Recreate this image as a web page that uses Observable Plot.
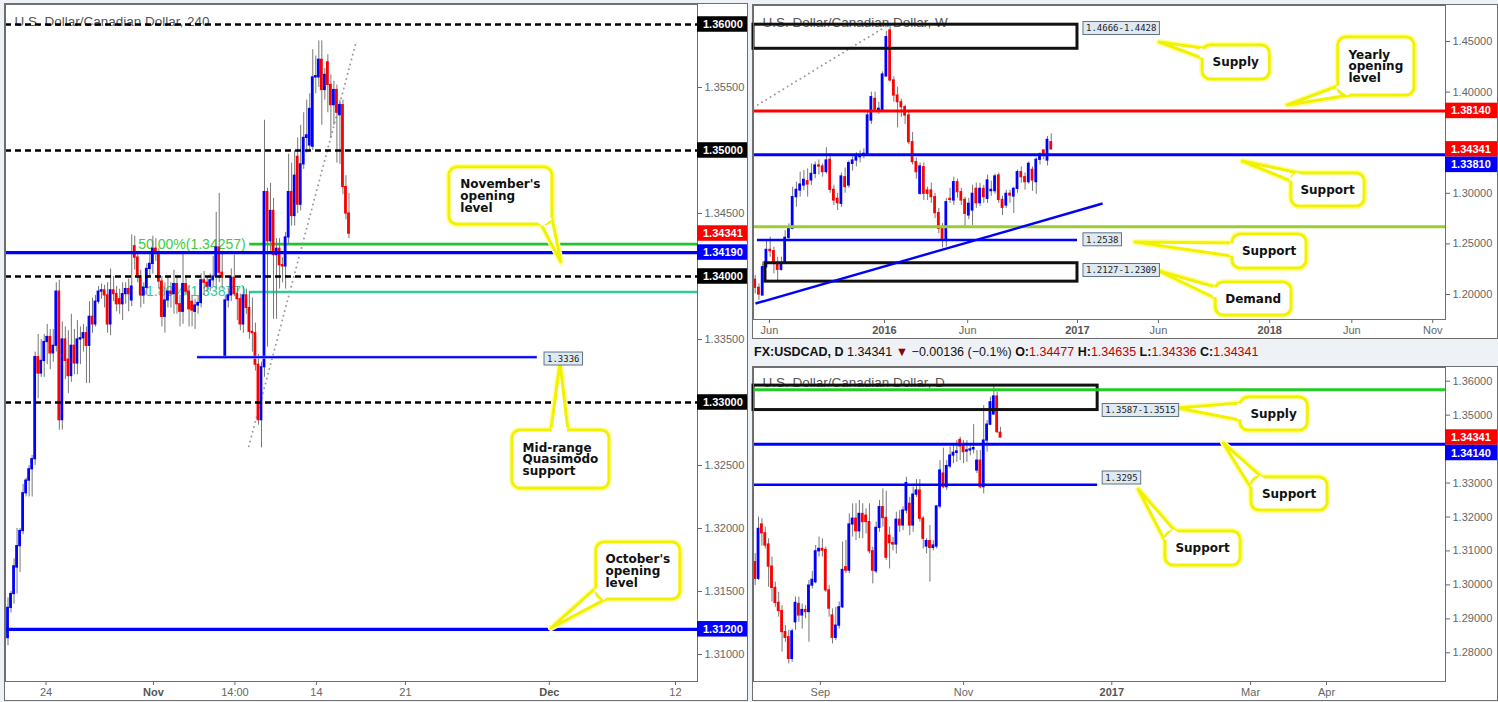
<!DOCTYPE html>
<html><head><meta charset="utf-8">
<script src="https://cdn.jsdelivr.net/npm/d3@7"></script>
<script src="https://cdn.jsdelivr.net/npm/@observablehq/plot@0.6"></script>
<style>
html,body{margin:0;padding:0;}
body{width:1498px;height:702px;background:#eef1f5;position:relative;overflow:hidden;font-family:"Liberation Sans",Arial,sans-serif;}
.panel{position:absolute;border:1px solid #6f6f6f;background:#fff;line-height:0;}
.panel svg{display:block;}
#hdr{position:absolute;left:754px;top:344px;font-size:12.5px;line-height:16px;color:#111;white-space:nowrap;}
#hdr b{font-weight:bold;color:#111;}
#hdr .r{color:#c00000;}
</style></head><body>
<div id="p1" class="panel" style="left:4px;top:3px;"></div>
<div id="p2" class="panel" style="left:752px;top:4px;"></div>
<div id="hdr"><b>FX:USDCAD, D</b> 1.34341 <span style="color:#8b0000">▼</span> −0.00136 (−0.1%) <b>O:</b><span class="r">1.34477</span> <b>H:</b><span class="r">1.34635</span> <b>L:</b><span class="r">1.34336</span> <b>C:</b><span class="r">1.34341</span></div>
<div id="p3" class="panel" style="left:752px;top:366px;"></div>
<script>
// ================= 4H (240) panel data =================
const h4Open = [1.3113,1.3137,1.3148,1.3169,1.3186,1.3198,1.3228,1.3238,1.3247,1.3255,
1.3336,1.3323,1.3333,1.3348,1.3352,1.3339,1.3345,1.3388,1.3286,1.3350,
1.3334,1.3321,1.3345,1.3331,1.3350,1.3351,1.3355,1.3345,1.3368,1.3362,
1.3380,1.3388,1.3389,1.3385,1.3362,1.3389,1.3386,1.3382,1.3378,1.3386,
1.3390,1.3381,1.3424,1.3415,1.3400,1.3385,1.3391,1.3406,1.3410,1.3422,
1.3418,1.3396,1.3368,1.3381,1.3388,1.3386,1.3394,1.3378,1.3372,1.3394,
1.3388,1.3380,1.3372,1.3377,1.3379,1.3397,1.3395,1.3392,1.3397,1.3400,
1.3423,1.3403,1.3336,1.3381,1.3385,1.3399,1.3386,1.3382,1.3362,1.3385,
1.3375,1.3356,1.3355,1.3330,1.3286,1.3328,1.3467,1.3428,1.3452,1.3417,
1.3422,1.3409,1.3408,1.3431,1.3467,1.3448,1.3495,1.3457,1.3489,1.3510,
1.3504,1.3503,1.3558,1.3558,1.3572,1.3548,1.3570,1.3552,1.3536,1.3548,
1.3528,1.3536,1.3471,1.3450];
const h4High = [1.3145,1.3150,1.3176,1.3200,1.3200,1.3235,1.3240,1.3250,1.3258,1.3340,
1.3354,1.3350,1.3354,1.3362,1.3358,1.3358,1.3395,1.3397,1.3364,1.3360,
1.3357,1.3370,1.3358,1.3365,1.3360,1.3362,1.3360,1.3380,1.3383,1.3385,
1.3392,1.3394,1.3393,1.3395,1.3406,1.3400,1.3392,1.3390,1.3395,1.3395,
1.3398,1.3433,1.3432,1.3420,1.3405,1.3395,1.3410,1.3420,1.3432,1.3430,
1.3422,1.3400,1.3395,1.3400,1.3395,1.3405,1.3400,1.3385,1.3420,1.3400,
1.3392,1.3385,1.3382,1.3385,1.3402,1.3404,1.3400,1.3402,1.3416,1.3451,
1.3466,1.3420,1.3385,1.3391,1.3406,1.3417,1.3392,1.3386,1.3392,1.3390,
1.3388,1.3383,1.3363,1.3338,1.3332,1.3524,1.3470,1.3474,1.3462,1.3430,
1.3430,1.3415,1.3435,1.3497,1.3490,1.3500,1.3510,1.3520,1.3530,1.3540,
1.3545,1.3580,1.3575,1.3587,1.3587,1.3565,1.3576,1.3560,1.3555,1.3552,
1.3540,1.3540,1.3480,1.3466];
const h4Low = [1.3107,1.3133,1.3140,1.3148,1.3165,1.3195,1.3225,1.3225,1.3225,1.3250,
1.3303,1.3320,1.3320,1.3330,1.3326,1.3332,1.3340,1.3278,1.3278,1.3318,
1.3307,1.3316,1.3322,1.3322,1.3330,1.3340,1.3315,1.3315,1.3355,1.3360,
1.3378,1.3382,1.3375,1.3355,1.3353,1.3380,1.3372,1.3370,1.3365,1.3378,
1.3372,1.3376,1.3405,1.3395,1.3375,1.3378,1.3385,1.3400,1.3402,1.3412,
1.3390,1.3360,1.3355,1.3375,1.3375,1.3370,1.3370,1.3360,1.3362,1.3385,
1.3360,1.3360,1.3358,1.3370,1.3375,1.3385,1.3388,1.3388,1.3392,1.3390,
1.3395,1.3390,1.3334,1.3375,1.3380,1.3384,1.3365,1.3357,1.3355,1.3370,
1.3350,1.3340,1.3325,1.3282,1.3264,1.3320,1.3344,1.3420,1.3366,1.3366,
1.3390,1.3395,1.3390,1.3425,1.3440,1.3440,1.3450,1.3452,1.3485,1.3498,
1.3500,1.3500,1.3545,1.3550,1.3520,1.3540,1.3530,1.3510,1.3520,1.3490,
1.3489,1.3465,1.3445,1.3430];
const h4Close = [1.3137,1.3148,1.3170,1.3186,1.3198,1.3228,1.3238,1.3247,1.3255,1.3336,
1.3323,1.3333,1.3348,1.3352,1.3339,1.3345,1.3388,1.3286,1.3350,1.3333,
1.3321,1.3345,1.3331,1.3350,1.3351,1.3355,1.3345,1.3368,1.3362,1.3380,
1.3388,1.3389,1.3385,1.3362,1.3389,1.3386,1.3378,1.3378,1.3386,1.3390,
1.3386,1.3392,1.3415,1.3400,1.3385,1.3391,1.3406,1.3410,1.3422,1.3418,
1.3396,1.3368,1.3381,1.3388,1.3386,1.3394,1.3378,1.3372,1.3394,1.3388,
1.3374,1.3373,1.3377,1.3379,1.3397,1.3395,1.3392,1.3397,1.3400,1.3423,
1.3403,1.3399,1.3381,1.3385,1.3399,1.3386,1.3382,1.3362,1.3385,1.3375,
1.3356,1.3355,1.3330,1.3286,1.3328,1.3467,1.3428,1.3452,1.3417,1.3422,
1.3409,1.3408,1.3431,1.3467,1.3448,1.3480,1.3457,1.3489,1.3510,1.3512,
1.3533,1.3558,1.3559,1.3572,1.3548,1.3560,1.3552,1.3536,1.3548,1.3530,
1.3536,1.3471,1.3450,1.3434];
const h4TickPos = [12.6, 48.2, 75.2, 102.2, 131.7, 179.4, 221.2];
const h4TickLabels = ["24","Nov","14:00","14","21","Dec","12"];
const h4PriceTicks = [1.31,1.315,1.32,1.325,1.335,1.345,1.355];
const h4RoundLevels = [1.36,1.35,1.34,1.33];
const h4NovOpen = 1.3419, h4OctOpen = 1.3120, h4QM = 1.3336;
const h4Fib50 = 1.34257, h4Fib618 = 1.33877, lastPrice = 1.34341;

// ================= Weekly panel data =================
const wOpen = [1.2145,1.2066,1.1990,1.2270,1.2441,1.2428,1.2303,1.2244,1.2310,1.2560,
1.2649,1.2962,1.3028,1.3077,1.3120,1.3127,1.3192,1.3275,1.3265,1.3210,
1.3331,1.3034,1.2945,1.2896,1.3159,1.3077,1.3291,1.3324,1.3357,1.3374,
1.3390,1.3719,1.3933,1.3818,1.3818,1.4154,1.4609,1.4115,1.3966,1.3900,
1.3851,1.3769,1.3505,1.3308,1.2995,1.3258,1.3028,1.3028,1.2962,1.2804,
1.2649,1.2540,1.2945,1.2929,1.3110,1.3011,1.2935,1.2781,1.2830,1.3044,
1.2902,1.3044,1.2945,1.3021,1.3021,1.3176,1.2935,1.2879,1.2995,1.2968,
1.3044,1.3209,1.3159,1.3110,1.3232,1.3110,1.3331,1.3423,1.3324,1.3505];
const wHigh = [1.2188,1.2105,1.2320,1.2534,1.2567,1.2468,1.2369,1.2369,1.2632,1.2698,
1.3061,1.3110,1.3209,1.3225,1.3242,1.3291,1.3308,1.3330,1.3290,1.3450,
1.3390,1.3080,1.3000,1.3200,1.3250,1.3320,1.3360,1.3400,1.3420,1.3440,
1.3800,1.4000,1.4000,1.3900,1.4200,1.4600,1.4680,1.4150,1.4050,1.3930,
1.3870,1.3800,1.3600,1.3350,1.3300,1.3300,1.3060,1.3100,1.3000,1.2850,
1.2700,1.2950,1.3050,1.3160,1.3140,1.3050,1.2960,1.2950,1.3080,1.3100,
1.3100,1.3080,1.3180,1.3120,1.3190,1.3200,1.2970,1.3030,1.3030,1.3060,
1.3230,1.3260,1.3200,1.3310,1.3260,1.3350,1.3400,1.3430,1.3560,1.3588];
const wLow = [1.2007,1.1941,1.1985,1.2260,1.2369,1.2204,1.2138,1.2230,1.2300,1.2540,
1.2640,1.2863,1.2962,1.3028,1.2962,1.3077,1.3143,1.3180,1.3160,1.3190,
1.3000,1.2880,1.2830,1.2860,1.3000,1.3050,1.3220,1.3260,1.3300,1.3340,
1.3380,1.3680,1.3800,1.3780,1.3810,1.4150,1.4100,1.3900,1.3647,1.3750,
1.3680,1.3480,1.3280,1.3140,1.2980,1.2929,1.2930,1.2900,1.2750,1.2600,
1.2460,1.2470,1.2900,1.2880,1.2950,1.2880,1.2665,1.2740,1.2682,1.2850,
1.2870,1.2900,1.2900,1.2970,1.2990,1.2900,1.2780,1.2850,1.2900,1.2800,
1.3000,1.3100,1.3030,1.3090,1.3020,1.2990,1.3280,1.3330,1.3270,1.3430];
const wClose = [1.2066,1.2000,1.2270,1.2441,1.2428,1.2303,1.2244,1.2310,1.2560,1.2649,
1.2962,1.3034,1.3087,1.3133,1.3087,1.3192,1.3275,1.3265,1.3210,1.3324,
1.3034,1.2929,1.2902,1.3166,1.3061,1.3298,1.3324,1.3357,1.3374,1.3390,
1.3769,1.3950,1.3825,1.3835,1.4174,1.4543,1.4115,1.3966,1.3900,1.3851,
1.3769,1.3505,1.3308,1.3209,1.3265,1.2995,1.2995,1.2962,1.2804,1.2649,
1.2540,1.2912,1.2935,1.3110,1.3011,1.2929,1.2797,1.2896,1.2995,1.2902,
1.3044,1.2962,1.3127,1.3034,1.3166,1.2935,1.2856,1.2995,1.2978,1.3044,
1.3209,1.3159,1.3110,1.3291,1.3127,1.3331,1.3383,1.3390,1.3528,1.3434];
const wTickPos = [3.8, 34.5, 56.7, 86.0, 107.6, 137.3, 159.2, 180.8];
const wTickLabels = ["Jun","2016","Jun","2017","Jun","2018","Jun","Nov"];
const wPriceTicks = [1.20,1.25,1.30,1.40,1.45];
const wYearlyOpen = 1.3814, wSupport = 1.3381, wGreenLevel = 1.2670, wSupport2 = 1.2538;
const wSupplyZone = [1.4428, 1.4666], wDemandZone = [1.2127, 1.2309];

// ================= Daily panel data =================
const dOpen = [1.3067,1.3018,1.3178,1.3152,1.3119,1.3054,1.2991,1.2947,1.2923,1.2861,
1.2846,1.2782,1.2890,1.2944,1.2910,1.2926,1.2920,1.2998,1.3008,1.3099,
1.3106,1.3103,1.2984,1.2910,1.2844,1.2880,1.2934,1.3052,1.3042,1.3178,
1.3195,1.3158,1.3209,1.3204,1.3185,1.3099,1.3040,1.3168,1.3229,1.3197,
1.3145,1.3123,1.3119,1.3192,1.3175,1.3219,1.3239,1.3175,1.3266,1.3278,
1.3195,1.3113,1.3129,1.3109,1.3113,1.3231,1.3328,1.3288,1.3349,1.3381,
1.3389,1.3427,1.3408,1.3393,1.3396,1.3399,1.3337,1.3366,1.3288,1.3425,
1.3472,1.3502,1.3555,1.3448];
const dHigh = [1.3092,1.3200,1.3195,1.3170,1.3136,1.3082,1.3008,1.2978,1.2939,1.2880,
1.2866,1.2870,1.2964,1.2964,1.2944,1.2939,1.3013,1.3040,1.3116,1.3141,
1.3136,1.3111,1.2998,1.2929,1.2934,1.2950,1.3126,1.3131,1.3209,1.3239,
1.3239,1.3249,1.3239,1.3224,1.3239,1.3111,1.3185,1.3249,1.3283,1.3276,
1.3170,1.3140,1.3214,1.3219,1.3230,1.3317,1.3258,1.3288,1.3310,1.3310,
1.3201,1.3136,1.3175,1.3130,1.3234,1.3366,1.3403,1.3366,1.3406,1.3411,
1.3425,1.3435,1.3425,1.3425,1.3410,1.3472,1.3396,1.3396,1.3528,1.3484,
1.3553,1.3587,1.3568,1.3464];
const dLow = [1.2998,1.3013,1.3114,1.3106,1.2993,1.2949,1.2934,1.2905,1.2802,1.2831,
1.2767,1.2772,1.2866,1.2890,1.2870,1.2900,1.2831,1.2988,1.3003,1.3082,
1.3082,1.2978,1.2905,1.2826,1.2836,1.2870,1.2930,1.3033,1.3033,1.3141,
1.3131,1.3136,1.3136,1.3150,1.3091,1.3003,1.3033,1.3155,1.3170,1.3072,
1.3047,1.3100,1.3091,1.3155,1.3160,1.3209,1.3145,1.3155,1.3258,1.3185,
1.3106,1.3091,1.3008,1.3100,1.3106,1.3224,1.3283,1.3278,1.3342,1.3357,
1.3361,1.3366,1.3357,1.3361,1.3380,1.3386,1.3328,1.3283,1.3268,1.3391,
1.3470,1.3500,1.3445,1.3434];
const dClose = [1.3018,1.3165,1.3152,1.3116,1.3054,1.2991,1.2947,1.2923,1.2861,1.2844,
1.2782,1.2863,1.2947,1.2910,1.2926,1.2920,1.2998,1.3015,1.3099,1.3106,
1.3101,1.2984,1.2930,1.2844,1.2880,1.2934,1.3044,1.3042,1.3178,1.3195,
1.3158,1.3209,1.3185,1.3185,1.3099,1.3042,1.3168,1.3229,1.3197,1.3080,
1.3123,1.3119,1.3192,1.3175,1.3219,1.3300,1.3175,1.3266,1.3278,1.3195,
1.3136,1.3129,1.3109,1.3116,1.3231,1.3337,1.3288,1.3350,1.3381,1.3389,
1.3393,1.3408,1.3391,1.3396,1.3399,1.3403,1.3366,1.3288,1.3425,1.3472,
1.3538,1.3555,1.3450,1.3434];
const dTickPos = [19.4, 62.0, 106.1, 147.4, 170.0];
const dTickLabels = ["Sep","Nov","2017","Mar","Apr"];
const dPriceTicks = [1.28,1.29,1.30,1.31,1.32,1.33,1.35,1.36];
const dSupport = 1.3414, dSupport2 = 1.3295, dGreenLevel = 1.3575;
const dSupplyZone = [1.3515, 1.3587];

// ================= helpers =================
const BLUE = "#0000ff", RED = "#ff0000";
const fmt5 = d3.format(".5f");
function rows(o, h, l, c) { return o.map((v, i) => ({i, o: v, h: h[i], l: l[i], c: c[i]})); }
function candleMarks(data, hw) {
  const up = data.filter(d => d.c >= d.o), dn = data.filter(d => d.c < d.o);
  return [
    Plot.ruleX(data, {x: "i", y1: "l", y2: "h", stroke: "#777", strokeWidth: 1}),
    Plot.rect(up, {x1: d => d.i - hw, x2: d => d.i + hw, y1: "o", y2: "c", fill: BLUE, insetTop: -0.6, insetBottom: -0.6}),
    Plot.rect(dn, {x1: d => d.i - hw, x2: d => d.i + hw, y1: "o", y2: "c", fill: RED, insetTop: -0.6, insetBottom: -0.6})
  ];
}
function titleMark(t, dy) {
  return Plot.text([t], {frameAnchor: "top-left", dx: 9, dy, text: d => d, fill: "#555", fontSize: 13.5, textAnchor: "start", lineAnchor: "middle"});
}
function linScale(plot, name) {
  const s = plot.scale(name);
  return d3.scaleLinear().domain(s.domain).range(s.range);
}
function drawTags(g, tags, ys, x0, x1) {
  const H = 15.5;
  const items = tags.map(t => ({...t, py: ys(t.v)})).sort((a, b) => a.py - b.py);
  for (let k = 1; k < items.length; k++) if (items[k].py - items[k - 1].py < H) items[k].py = items[k - 1].py + H;
  for (const t of items) {
    g.append("rect").attr("x", x0).attr("y", t.py - H / 2).attr("width", x1 - x0).attr("height", H).attr("fill", t.color);
    g.append("text").attr("x", x0 + 6).attr("y", t.py + 4).attr("fill", "#fff").attr("font-weight", "bold")
      .attr("font-size", "11px").text(fmt5(t.v));
  }
}
function drawLabels(g, labels, xs, ys) {
  for (const lb of labels) {
    const x = xs(lb.x), y = ys(lb.y);
    const r = g.append("rect").attr("x", x).attr("y", y - 6.5).attr("height", 13).attr("fill", "#dfe9f1").attr("stroke", "#5f7586").attr("stroke-width", 1);
    const t = g.append("text").attr("x", x + 3).attr("y", y + 3.3).attr("font-family", "'DejaVu Sans Mono', monospace")
      .attr("font-size", "9px").attr("fill", "#222").text(lb.text);
    r.attr("width", t.node().getComputedTextLength() + 6);
  }
}
function drawCallouts(g, callouts, xs, ys) {
  for (const c of callouts) {
    const X1 = xs(c.x1), X2 = xs(c.x2), Y1 = ys(c.y1), Y2 = ys(c.y2);
    const bx = Math.min(X1, X2), by = Math.min(Y1, Y2), bw = Math.abs(X2 - X1), bh = Math.abs(Y2 - Y1);
    const cx = bx + bw / 2, cy = by + bh / 2;
    const tip = [xs(c.tip[0]), ys(c.tip[1])];
    const b1 = [xs(c.b1[0]), ys(c.b1[1])], b2 = [xs(c.b2[0]), ys(c.b2[1])];
    const toward = (p, q, d) => { const dx = q[0] - p[0], dy = q[1] - p[1], L = Math.hypot(dx, dy) || 1; return [p[0] + dx / L * d, p[1] + dy / L * d]; };
    const tri = [b1, tip, b2].map(p => p.join(",")).join(" ");
    const cover = [toward(b1, tip, 2.5), toward(b1, [cx, cy], 6), toward(b2, [cx, cy], 6), toward(b2, tip, 2.5)].map(p => p.join(",")).join(" ");
    const halo = "#ffff9c", main = "#f2f200";
    g.append("polygon").attr("points", tri).attr("fill", "#fff").attr("stroke", halo).attr("stroke-width", 6).attr("stroke-linejoin", "round");
    g.append("rect").attr("x", bx).attr("y", by).attr("width", bw).attr("height", bh).attr("rx", 8)
      .attr("fill", "#fff").attr("stroke", halo).attr("stroke-width", 6);
    g.append("polygon").attr("points", tri).attr("fill", "#fff").attr("stroke", main).attr("stroke-width", 3).attr("stroke-linejoin", "round");
    g.append("rect").attr("x", bx).attr("y", by).attr("width", bw).attr("height", bh).attr("rx", 8)
      .attr("fill", "#fff").attr("stroke", main).attr("stroke-width", 3);
    g.append("polygon").attr("points", cover).attr("fill", "#fff");
    const t = g.append("text").attr("font-family", "'DejaVu Sans', Verdana, sans-serif").attr("font-weight", "bold")
      .attr("font-size", "12px").attr("fill", "#111").attr("text-anchor", "start");
    const lh = 11.8, n = c.lines.length, y0 = cy - (n - 1) * lh / 2 + 4.3;
    c.lines.forEach((s, k) => t.append("tspan").attr("x", 0).attr("y", y0 + k * lh).text(s));
    let w = 0;
    t.selectAll("tspan").each(function () { w = Math.max(w, this.getComputedTextLength()); });
    t.selectAll("tspan").attr("x", cx - w / 2);
  }
}
function buildPanel(el, cfg) {
  const xLabel = new Map(cfg.xTicks.map((p, k) => [p, cfg.xLabels[k]]));
  const plot = Plot.plot({
    width: cfg.width, height: cfg.height,
    marginLeft: 0, marginTop: 0, marginRight: cfg.marginRight, marginBottom: 19,
    style: {background: "white", fontFamily: "'Liberation Sans', Arial, sans-serif", fontSize: "11px", color: "#666", overflow: "visible"},
    x: {domain: cfg.xDomain, ticks: cfg.xTicks, tickFormat: d => xLabel.get(d), tickSize: 4, tickPadding: 3, label: null},
    y: {domain: cfg.yDomain, axis: "right", ticks: cfg.yTicks, tickFormat: fmt5, tickSize: 4, tickPadding: 3, label: null},
    marks: [...cfg.marks, Plot.frame({stroke: "#6f6f6f"})]
  });
  el.appendChild(plot);
  const svg = d3.select(plot);
  svg.selectAll("text").filter(function () { return cfg.bold.includes(this.textContent); })
    .attr("font-weight", "bold").attr("fill", "#555");
  const xs = linScale(plot, "x"), ys = linScale(plot, "y");
  const g = svg.append("g").attr("text-anchor", "start");
  drawTags(g, cfg.tags, ys, xs.range()[1], cfg.width);
  drawCallouts(g, cfg.callouts, xs, ys);
  drawLabels(g, cfg.labels, xs, ys);
}

// ================= 4H panel =================
const h4 = rows(h4Open, h4High, h4Low, h4Close);
const h4FibFrom = 80.1;
buildPanel(document.getElementById("p1"), {
  width: 742, height: 696, marginRight: 50,
  xDomain: [-0.83, 228.5], yDomain: [1.307857, 1.361587],
  xTicks: h4TickPos, xLabels: h4TickLabels, yTicks: h4PriceTicks, bold: ["Nov", "Dec"],
  marks: [
    titleMark("U.S. Dollar/Canadian Dollar, 240", 17.5),
    Plot.text([{x: h4FibFrom, y: h4Fib50, t: "50.00%(1.34257)"}], {x: "x", y: "y", text: "t", textAnchor: "end", dx: -4, fill: "#3fca3f", fontSize: 14}),
    Plot.text([{x: h4FibFrom, y: h4Fib618, t: "61.80%(1.33877)"}], {x: "x", y: "y", text: "t", textAnchor: "end", dx: -4, fill: "#33cc9c", fontSize: 14}),
    Plot.ruleY([h4Fib618], {x1: h4FibFrom, x2: 228.5, stroke: "#2fcc98", strokeWidth: 2.6}),
    Plot.ruleY([h4Fib50], {x1: h4FibFrom, x2: 228.5, stroke: "#22c22a", strokeWidth: 2.6}),
    Plot.link([{a: 79.8, b: 1.32653, c: 115.5, d: 1.35873}], {x1: "a", y1: "b", x2: "c", y2: "d", stroke: "#9a9a9a", strokeWidth: 2, strokeDasharray: "0,5", strokeLinecap: "round"}),
    ...candleMarks(h4, 0.46),
    Plot.ruleY(h4RoundLevels, {stroke: "#000", strokeWidth: 2.6, strokeDasharray: "6,4"}),
    Plot.ruleY([h4NovOpen], {stroke: BLUE, strokeWidth: 3.2}),
    Plot.ruleY([h4OctOpen], {stroke: BLUE, strokeWidth: 3.2}),
    Plot.ruleY([h4QM], {x1: 62.8, x2: 175.4, stroke: "#8f8fff", strokeWidth: 3}),
    Plot.ruleY([h4QM], {x1: 62.8, x2: 175.4, stroke: BLUE, strokeWidth: 1.6})
  ],
  labels: [{x: 177.8, y: 1.33345, text: "1.3336"}],
  tags: [
    {v: 1.36, color: "#000"}, {v: 1.35, color: "#000"}, {v: lastPrice, color: RED},
    {v: h4NovOpen, color: BLUE}, {v: 1.34, color: "#000"}, {v: 1.33, color: "#000"}, {v: h4OctOpen, color: BLUE}
  ],
  callouts: [
    {x1: 146.3, x2: 180.4, y1: 1.34865, y2: 1.34413, tip: [183.4, 1.34111], b1: [176.8, 1.34413], b2: [180.3, 1.34470], lines: ["November's", "opening", "level"]},
    {x1: 167.2, x2: 199.3, y1: 1.32778, y2: 1.32317, tip: [183.1, 1.33310], b1: [180.1, 1.32778], b2: [185.7, 1.32778], lines: ["Mid-range", "Quasimodo", "support"]},
    {x1: 195.0, x2: 222.8, y1: 1.31889, y2: 1.31437, tip: [180.1, 1.31206], b1: [195.0, 1.31524], b2: [198.3, 1.31437], lines: ["October's", "opening", "level"]}
  ]
});

// ================= Weekly panel =================
const wk = rows(wOpen, wHigh, wLow, wClose);
buildPanel(document.getElementById("p2"), {
  width: 744, height: 333, marginRight: 52,
  xDomain: [-0.45, 184.2], yDomain: [1.175296, 1.485573],
  xTicks: wTickPos, xLabels: wTickLabels, yTicks: wPriceTicks, bold: ["2016", "2017", "2018"],
  marks: [
    titleMark("U.S. Dollar/Canadian Dollar, W", 17),
    Plot.link([{a: -0.45, b: 1.3848, c: 36.6, d: 1.4688}], {x1: "a", y1: "b", x2: "c", y2: "d", stroke: "#9a9a9a", strokeWidth: 2, strokeDasharray: "0,5", strokeLinecap: "round"}),
    ...candleMarks(wk, 0.37),
    Plot.rect([wSupplyZone], {x1: -0.45, x2: 86.0, y1: d => d[0], y2: d => d[1], fill: "none", stroke: "#111", strokeWidth: 3}),
    Plot.rect([wDemandZone], {x1: 2.75, x2: 86.0, y1: d => d[0], y2: d => d[1], fill: "none", stroke: "#111", strokeWidth: 3}),
    Plot.ruleY([wYearlyOpen], {stroke: RED, strokeWidth: 3}),
    Plot.ruleY([wSupport], {stroke: BLUE, strokeWidth: 3}),
    Plot.ruleY([wGreenLevel], {stroke: "#9acd32", strokeWidth: 3}),
    Plot.ruleY([wSupport2], {x1: 0.6, x2: 86.0, stroke: BLUE, strokeWidth: 2.4}),
    Plot.link([{a: 0.08, b: 1.1911, c: 92.7, d: 1.2899}], {x1: "a", y1: "b", x2: "c", y2: "d", stroke: BLUE, strokeWidth: 2.4})
  ],
  labels: [
    {x: 87.6, y: 1.46285, text: "1.4666-1.4428"},
    {x: 87.6, y: 1.25405, text: "1.2538"},
    {x: 87.6, y: 1.22372, text: "1.2127-1.2309"}
  ],
  tags: [{v: wYearlyOpen, color: RED}, {v: lastPrice, color: RED}, {v: wSupport, color: BLUE}],
  callouts: [
    {x1: 119.4, x2: 137.3, y1: 1.44605, y2: 1.41245, tip: [107.9, 1.44901], b1: [119.4, 1.44308], b2: [119.4, 1.43320], lines: ["Supply"]},
    {x1: 155.6, x2: 175.9, y1: 1.45395, y2: 1.39664, tip: [142.1, 1.38676], b1: [155.6, 1.40553], b2: [158.8, 1.39664], lines: ["Yearly", "opening", "level"]},
    {x1: 143.1, x2: 162.6, y1: 1.31957, y2: 1.28696, tip: [130.1, 1.33142], b1: [143.1, 1.31166], b2: [145.2, 1.31957], lines: ["Support"]},
    {x1: 127.4, x2: 147.1, y1: 1.25929, y2: 1.22569, tip: [101.5, 1.25138], b1: [127.4, 1.25040], b2: [127.4, 1.23755], lines: ["Support"]},
    {x1: 122.9, x2: 143.1, y1: 1.21186, y2: 1.17925, tip: [107.9, 1.22273], b1: [122.9, 1.20692], b2: [122.9, 1.19605], lines: ["Demand"]}
  ]
});

// ================= Daily panel =================
const dy = rows(dOpen, dHigh, dLow, dClose);
buildPanel(document.getElementById("p3"), {
  width: 744, height: 333, marginRight: 52,
  xDomain: [-0.5, 205.4], yDomain: [1.271547, 1.364035],
  xTicks: dTickPos, xLabels: dTickLabels, yTicks: dPriceTicks, bold: ["2017"],
  marks: [
    titleMark("U.S. Dollar/Canadian Dollar, D", 15.5),
    ...candleMarks(dy, 0.42),
    Plot.rect([dSupplyZone], {x1: -0.5, x2: 101.9, y1: d => d[0], y2: d => d[1], fill: "none", stroke: "#111", strokeWidth: 3}),
    Plot.ruleY([dGreenLevel], {stroke: "#22cc22", strokeWidth: 3}),
    Plot.ruleY([dSupport], {stroke: BLUE, strokeWidth: 3}),
    Plot.ruleY([dSupport2], {x1: -0.5, x2: 101.9, stroke: BLUE, strokeWidth: 2.4})
  ],
  labels: [
    {x: 103.4, y: 1.35137, text: "1.3587-1.3515"},
    {x: 103.4, y: 1.33149, text: "1.3295"}
  ],
  tags: [{v: lastPrice, color: RED}, {v: dSupport, color: BLUE}],
  callouts: [
    {x1: 144.4, x2: 164.4, y1: 1.35520, y2: 1.34548, tip: [126.0, 1.35196], b1: [144.4, 1.35343], b2: [144.4, 1.34842], lines: ["Supply"]},
    {x1: 147.7, x2: 170.3, y1: 1.33163, y2: 1.32191, tip: [139.4, 1.34165], b1: [147.7, 1.32840], b2: [150.9, 1.33163], lines: ["Support"]},
    {x1: 122.1, x2: 144.4, y1: 1.31573, y2: 1.30572, tip: [114.1, 1.32810], b1: [122.1, 1.31278], b2: [125.1, 1.31573], lines: ["Support"]}
  ]
});
</script>
</body></html>
